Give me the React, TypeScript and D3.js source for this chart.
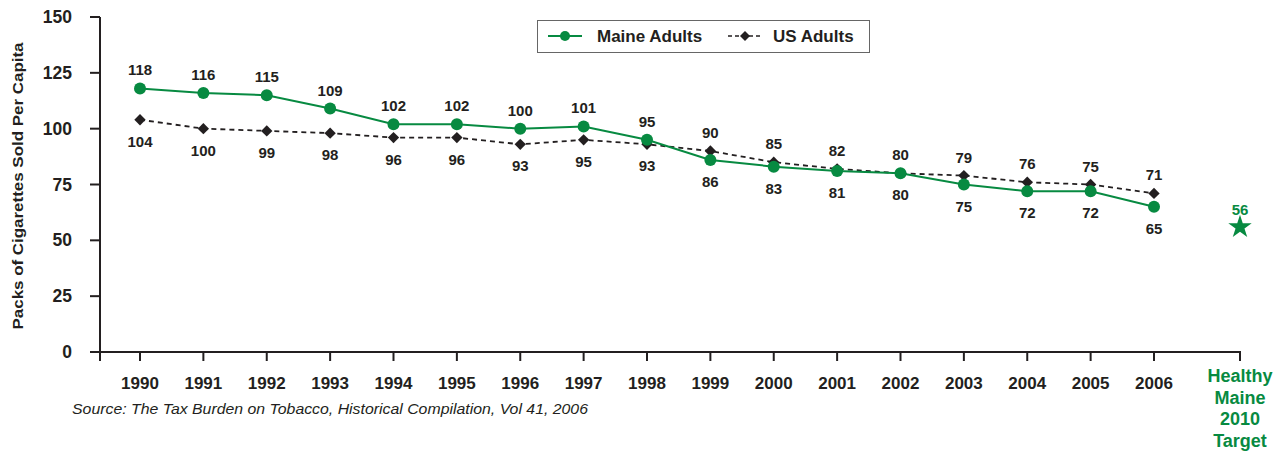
import React from "react";
import * as d3 from "d3";

const years = ["1990","1991","1992","1993","1994","1995","1996","1997","1998","1999","2000","2001","2002","2003","2004","2005","2006"];
const maine = [118,116,115,109,102,102,100,101,95,86,83,81,80,75,72,72,65];
const us = [104,100,99,98,96,96,93,95,93,90,85,82,80,79,76,75,71];
const maineLabelAbove = [true,true,true,true,true,true,true,true,true,false,false,false,false,false,false,false,false];
const targetValue = 56;
const targetLabel = ["Healthy","Maine","2010","Target"];
const yTicks = [0,25,50,75,100,125,150];

const GREEN = "#078a41";
const DARK = "#231f20";
const FONT = "Arial, 'Liberation Sans', Helvetica, sans-serif";

export default function App() {
  const W = 1284, H = 453;
  const y = d3.scaleLinear().domain([0,150]).range([352,17]);
  const x = d3.scalePoint<string>().domain(years).range([140,1154]);
  const targetX = 1240;
  const axisX = 100;

  const lineGen = d3.line<number>().x((_, i) => x(years[i])!).y(d => y(d));
  const diamond = d3.symbol().type(d3.symbolSquare).size(64)()!;
  const legendDiamond = d3.symbol().type(d3.symbolSquare).size(50)()!;
  const star = d3.symbol().type(d3.symbolStar).size(170)()!;

  return (
    <svg width={W} height={H} style={{position:"absolute", left:0, top:0, fontFamily: FONT}}>
      <rect width={W} height={H} fill="#fff"/>
      {/* axes */}
      <line x1={axisX} x2={axisX} y1={17} y2={361} stroke={DARK} strokeWidth={2}/>
      <line x1={axisX-10} x2={targetX+1} y1={352} y2={352} stroke={DARK} strokeWidth={2}/>
      {yTicks.map(t => (
        <g key={t}>
          <line x1={axisX-10} x2={axisX} y1={y(t)} y2={y(t)} stroke={DARK} strokeWidth={2}/>
          <text x={72} y={y(t)} dy="0.35em" textAnchor="end" fontSize={17.5} fontWeight="bold" fill={DARK}>{t}</text>
        </g>
      ))}
      {years.map(yr => (
        <g key={yr}>
          <line x1={x(yr)} x2={x(yr)} y1={352} y2={361} stroke={DARK} strokeWidth={2}/>
          <text x={x(yr)} y={389} textAnchor="middle" fontSize={17} fontWeight="bold" fill={DARK}>{yr}</text>
        </g>
      ))}
      <line x1={targetX} x2={targetX} y1={352} y2={361} stroke={DARK} strokeWidth={2}/>
      <text transform={`translate(23,186) rotate(-90)`} textAnchor="middle" fontSize={15} fontWeight="bold" fill={DARK} textLength={287} lengthAdjust="spacingAndGlyphs">Packs of Cigarettes Sold Per Capita</text>

      {/* US line */}
      <path d={lineGen(us)!} fill="none" stroke={DARK} strokeWidth={1.8} strokeDasharray="5,4"/>
      {us.map((v,i) => (
        <path key={i} d={diamond} transform={`translate(${x(years[i])},${y(v)}) rotate(45)`} fill={DARK}/>
      ))}
      {/* Maine line */}
      <path d={lineGen(maine)!} fill="none" stroke={GREEN} strokeWidth={2}/>
      {maine.map((v,i) => (
        <circle key={i} cx={x(years[i])} cy={y(v)} r={6} fill={GREEN}/>
      ))}

      {/* labels */}
      {maine.map((v,i) => (
        <text key={"m"+i} x={x(years[i])} y={maineLabelAbove[i] ? y(v)-13 : y(v)+27} textAnchor="middle" fontSize={15} fontWeight="bold" fill={DARK}>{v}</text>
      ))}
      {us.map((v,i) => (
        <text key={"u"+i} x={x(years[i])} y={maineLabelAbove[i] ? y(v)+27 : y(v)-13} textAnchor="middle" fontSize={15} fontWeight="bold" fill={DARK}>{v}</text>
      ))}

      {/* target */}
      <path d={star} transform={`translate(${targetX},${y(targetValue)})`} fill={GREEN}/>
      <text x={targetX} y={y(targetValue)-12} textAnchor="middle" fontSize={15} fontWeight="bold" fill={GREEN}>{targetValue}</text>
      {targetLabel.map((t,i) => (
        <text key={t} x={targetX} y={382 + i*21.7} textAnchor="middle" fontSize={18} fontWeight="bold" fill={GREEN}>{t}</text>
      ))}

      {/* source */}
      <text x={72} y={414} fontSize={15.5} fontStyle="italic" fill={DARK} textLength={516} lengthAdjust="spacingAndGlyphs">Source: The Tax Burden on Tobacco, Historical Compilation, Vol 41, 2006</text>

      {/* legend */}
      <rect x={537.5} y={20.5} width={332} height={32} fill="#fff" stroke="#666" strokeWidth={1}/>
      <line x1={548} x2={582} y1={36} y2={36} stroke={GREEN} strokeWidth={2}/>
      <circle cx={565} cy={36} r={5} fill={GREEN}/>
      <text x={597} y={36} dy="0.35em" fontSize={17} fontWeight="bold" fill={DARK}>Maine Adults</text>
      <line x1={728} x2={762} y1={36} y2={36} stroke={DARK} strokeWidth={1.5} strokeDasharray="4,3"/>
      <path d={legendDiamond} transform="translate(745,36) rotate(45)" fill={DARK}/>
      <text x={773} y={36} dy="0.35em" fontSize={17} fontWeight="bold" fill={DARK}>US Adults</text>
    </svg>
  );
}
